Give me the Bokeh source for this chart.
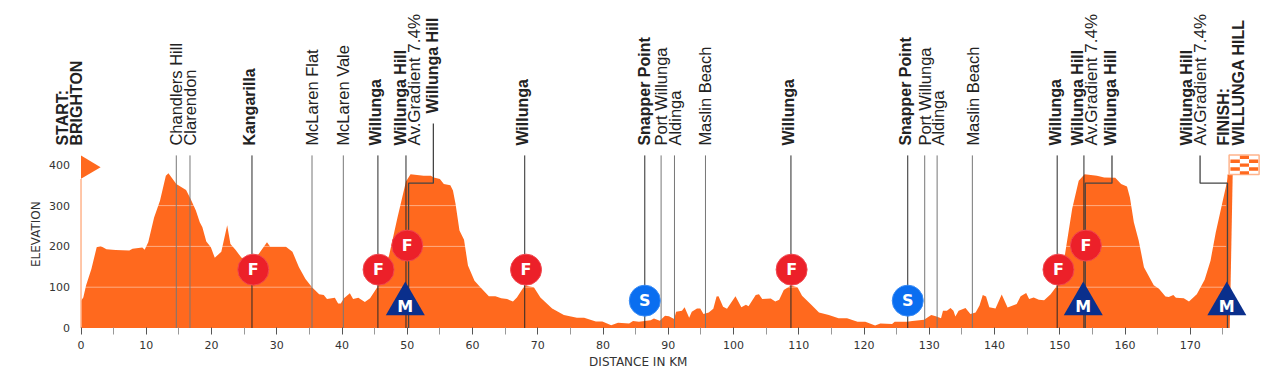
import math
from bokeh.plotting import figure
from bokeh.embed import file_html
from bokeh.resources import INLINE
from bokeh.core.properties import value
from bokeh.models import FixedTicker, Range1d

km = [0,.35,.77,1.6,2.4,3,3.9,5.3,7.4,7.9,9.4,9.75,10.3,11.2,12.1,13,13.4,14.6,16.1,16.8,17.6,18.2,18.6,19.2,19.9,20.5,21.5,22.4,22.9,23.7,24.6,26.2,27.2,28.5,29,31.4,32.4,33.4,34.4,35.4,36.5,37.2,37.7,38.9,39.4,39.8,40.3,41.2,41.7,42.5,43.5,44.3,45.4,47.2,48.5,49.8,50.5,52.5,53.6,54.07,55,55.6,56.6,57,57.4,58,58.7,59.3,60.3,61.2,62.5,63.5,64.4,65.3,66.2,66.8,68,69.4,70.4,72.2,74,76,77.1,78.9,79.9,81.25,82.3,84,84.6,85.5,87.3,87.8,88.7,89.5,90.1,90.9,91.2,92.1,92.5,93.2,93.6,94.4,94.9,95.4,96.2,96.9,97.4,97.7,98.4,99,100.3,101.2,101.9,102.3,103.4,103.9,104.4,105.7,106.4,107,107.7,108.8,109.8,110.5,111.8,113.1,114.6,116.1,117.4,119,120.2,121.7,122.5,124.3,124.7,126.6,127.4,129.2,130.3,131,131.8,132.1,132.7,133.25,133.7,134,134.5,135.55,136.3,137.1,137.7,138.2,138.7,139.2,140.15,141.1,142,143.4,144,144.85,145.3,146,146.8,147.6,148.6,149.6,150.8,151.9,152.9,153.8,155.7,156.8,158.5,159.4,160.3,160.75,161.35,162.1,162.9,164.4,165.2,166.2,166.7,167.4,167.8,169,169.8,171,172.2,173.1,173.9,175.55,175.8]
elev = [67,75,104,145,198,201,193,191,190,194,197,192,210,271,312,373,379,353,338,316,288,259,247,212,198,172,187,252,206,191,172,169,181,210,199,199,187,149,120,100,83,81,71,74,60,60,73,85,71,74,64,73,100,177,271,359,377,373,373,369,365,353,350,337,304,239,216,153,116,100,78,78,73,71,65,75,104,100,75,48,32,25,25,16,16,7,13,11,17,15,19,23,18,30,29,22,40,42,51,25,40,48,48,34,38,47,77,78,52,47,78,51,57,53,81,83,71,72,65,69,93,104,100,79,59,38,32,24,24,15,15,6,11,10,15,15,17,20,32,29,24,42,42,49,42,28,42,49,34,38,55,81,77,51,48,82,50,59,78,86,71,75,69,68,83,104,181,292,361,377,373,369,368,353,347,320,259,214,149,105,96,77,76,81,74,73,65,83,118,165,234,353,372]

label_text = ["START:","BRIGHTON","Chandlers Hill","Clarendon","Kangarilla","McLaren Flat","McLaren Vale","Willunga","Willunga Hill","Av.Gradient 7.4%","Willunga Hill","Willunga","Snapper Point","Port Willunga","Aldinga","Maslin Beach","Willunga","Snapper Point","Port Willunga","Aldinga","Maslin Beach","Willunga","Willunga Hill","Av.Gradient 7.4%","Willunga Hill","Willunga Hill","Av.Gradient 7.4%","FINISH:","WILLUNGA HILL"]
label_km = [-2.84,-0.69,14.6,16.67,25.87,35.37,40.18,45.18,48.92,51.07,53.8,67.66,86.31,88.92,90.96,95.66,108.43,126.36,129.27,131.27,136.63,149.35,152.77,154.87,157.78,169.38,171.57,175.14,177.35]
label_elev = [447,447,447,447,447,447,447,447,447,447,526,447,447,447,447,447,447,447,447,447,447,447,447,447,447,447,447,447,447]
label_bold = [1,1,0,0,1,0,0,1,1,2,1,1,1,0,0,0,1,1,0,0,0,1,1,2,1,1,2,1,1]

major_km = [26.2,45.5,49.8,68.0,86.4,108.8,126.7,149.6,153.7]
minor_km = [14.6,16.7,35.4,40.2,88.9,90.95,95.7,129.3,131.2,136.6]
elbow_x = [[54,54,50.2,50.2],[158,158,153.9,153.9],[171.5,171.5,175.7,175.7]]
elbow_y = [[501,355,355,0],[423,355,355,0],[423,355,355,0]]

f_km = [26.4,45.6,50,68.2,108.9,149.8,154]
f_elev = [143,143,202,143,143,143,202]
s_km = [86.4,126.7]
s_elev = [67,67]
m_km = [49.7,153.6,175.6]
m_elev = [59,59,59]

x_ticks = list(range(0,171,10))
x_minor = list(range(5,176,10))
y_ticks = [0,100,200,300,400]
grid_levels = [100,200,300]

ORANGE = "#ff691e"
LIGHT = "#ffb48c"
TICK_FONT = "DejaVu Sans"

p = figure(width=1272, height=378, output_backend="svg", toolbar_location=None,
           x_range=Range1d(-12.34,182.6), y_range=Range1d(-123.8,802.7),
           min_border_left=0, min_border_right=0, min_border_top=0, min_border_bottom=0)
p.outline_line_color = None
p.grid.visible = False
p.background_fill_color = None

p.xaxis.fixed_location = 0
p.yaxis.fixed_location = 0
p.xaxis.ticker = FixedTicker(ticks=x_ticks, minor_ticks=x_minor)
p.yaxis.ticker = FixedTicker(ticks=y_ticks)
p.xaxis.axis_line_color = None
p.yaxis.axis_line_color = None
p.yaxis.major_tick_line_color = None
p.yaxis.minor_tick_line_color = None
p.xaxis.major_tick_in = 0
p.xaxis.major_tick_out = 7
p.xaxis.minor_tick_in = 0
p.xaxis.minor_tick_out = 7
p.xaxis.major_tick_line_color = "#555555"
p.xaxis.minor_tick_line_color = "#999999"
p.xaxis.major_label_text_font = TICK_FONT
p.yaxis.major_label_text_font = TICK_FONT
p.xaxis.major_label_text_font_size = "11px"
p.yaxis.major_label_text_font_size = "11px"
p.xaxis.major_label_text_color = "#333333"
p.yaxis.major_label_text_color = "#333333"
p.xaxis.major_label_standoff = 6
p.yaxis.major_label_standoff = 5

p.varea(x=km, y1=[0]*len(km), y2=elev, fill_color=ORANGE)
p.segment(x0=[0.5]*3, x1=[175.5]*3, y0=grid_levels, y1=grid_levels, line_color="#ffffff", line_alpha=0.45, line_width=1)

# start flag
p.segment(x0=[0.0], x1=[0.0], y0=[0], y1=[365], line_color=LIGHT, line_width=1.5)
p.patch(x=[0,3,0], y=[423,394,366], fill_color=ORANGE, line_color=None)

# finish flag
p.patch(x=[175.7,176.5,176.05,175.7], y=[376,376,0,0], fill_color=ORANGE, line_color=None)
p.quad(left=[175.95], right=[180.55], bottom=[376], top=[424], fill_color="#ffffff", line_color=LIGHT, line_width=1.5)
col_edges = [176.15,177.6,179.0,180.4]
row_edges = [423,413.5,404,394.5,385,376.5]
cells = [(1,0),(0,1),(2,1),(1,2),(0,3),(2,3),(1,4)]
p.quad(left=[col_edges[c] for c,r in cells], right=[col_edges[c+1] for c,r in cells],
       top=[row_edges[r]-0.6 for c,r in cells], bottom=[row_edges[r+1]+0.6 for c,r in cells],
       fill_color=ORANGE, line_color=None)

# place lines
p.segment(x0=minor_km, x1=minor_km, y0=[0]*len(minor_km), y1=[423]*len(minor_km), line_color="#777777", line_width=1)
p.segment(x0=major_km, x1=major_km, y0=[0]*len(major_km), y1=[423]*len(major_km), line_color="#2a2a2a", line_width=1)
p.multi_line(xs=elbow_x, ys=elbow_y, line_color="#444444", line_width=1.3)

# markers
p.scatter(x=f_km, y=f_elev, marker="circle", size=31, fill_color="#ec2029", line_color="#f0484f", line_width=1)
p.scatter(x=s_km, y=s_elev, marker="circle", size=31, fill_color="#0a6ef0", line_color="#3a8cf5", line_width=1)
p.scatter(x=m_km, y=m_elev, marker="triangle", size=39, fill_color="#0a2f8c", line_color=None)
marker_font = dict(text_font=value("DejaVu Sans"), text_font_style="bold", text_color="#ffffff",
                   text_align="center", text_baseline="middle", text_font_size="16px")
p.text(x=f_km, y=f_elev, text=["F"]*len(f_km), **marker_font)
p.text(x=s_km, y=s_elev, text=["S"]*len(s_km), **marker_font)
p.text(x=m_km, y=[v-6 for v in m_elev], text=["M"]*len(m_km), **marker_font)

# rotated labels
for flag, style, size in ((1,"bold","16px"),(2,"normal","17px"),(0,"normal","16.5px")):
    idx = [i for i,b in enumerate(label_bold) if b==flag]
    p.text(x=[label_km[i] for i in idx], y=[label_elev[i] for i in idx], text=[label_text[i] for i in idx],
           angle=math.pi/2, text_font=value("Liberation Sans"), text_font_size=size, text_font_style=style,
           text_color="#222222", text_align="left", text_baseline="middle")

axis_font = dict(text_font=value(TICK_FONT), text_font_size="12px", text_color="#333333",
                 text_align="center", text_baseline="middle")
p.text(x=[85.4], y=[-84], text=["DISTANCE IN KM"], **axis_font)
p.text(x=[-6.97], y=[230], text=["ELEVATION"], angle=math.pi/2, **axis_font)

open("out.html", "w").write(file_html(p, INLINE))
